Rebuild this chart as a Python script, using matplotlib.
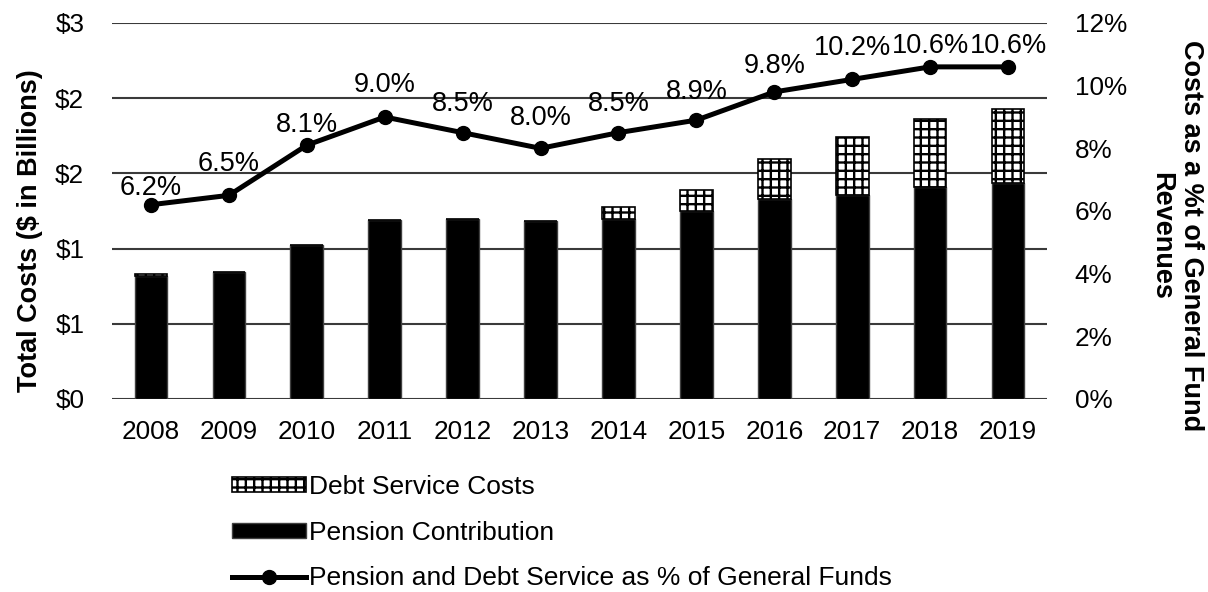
import matplotlib.pyplot as plt
from matplotlib.ticker import MultipleLocator, FuncFormatter

plt.rcParams["font.family"] = ["Liberation Sans", "DejaVu Sans"]
plt.rcParams["hatch.linewidth"] = 1.7
plt.rcParams["hatch.color"] = "black"

years = ["2008", "2009", "2010", "2011", "2012", "2013",
         "2014", "2015", "2016", "2017", "2018", "2019"]

# $ billions
pension = [0.818, 0.845, 1.022, 1.192, 1.196, 1.185,
           1.194, 1.249, 1.331, 1.358, 1.408, 1.434]
debt_service = [0.016, 0.0, 0.0, 0.0, 0.0, 0.0,
                0.081, 0.142, 0.265, 0.381, 0.457, 0.497]

# share of general fund revenues, in percent
pct_general_funds = [6.2, 6.5, 8.1, 9.0, 8.5, 8.0, 8.5, 8.9, 9.8, 10.2, 10.6, 10.6]

# vertical gap (points) between each marker and its % label
label_gap = [2.5, 13.5, 5.5, 14, 11, 12.5, 11, 11, 9, 13.5, 6, 6]

FS = 19.5
TICK_FS = 18.8

fig = plt.figure(figsize=(12.08, 5.92), dpi=100)
ax = fig.add_axes([112 / 1208, 1 - 399 / 592, 935 / 1208, 376 / 592])

x = range(len(years))
b1 = ax.bar(x, pension, width=0.42, color="black", edgecolor="#404040",
            linewidth=1, label="Pension Contribution", zorder=2)
b2 = ax.bar(x, debt_service, width=0.42, bottom=pension, color="white",
            edgecolor="black", hatch="++", linewidth=1.2,
            label="Debt Service Costs", zorder=2)

ax.set_xlim(-0.5, len(years) - 0.5)
ax.set_ylim(0, 2.5)
ax.yaxis.set_major_locator(MultipleLocator(0.5))
ax.yaxis.set_major_formatter(FuncFormatter(lambda v, p: "$%d" % int(v + 0.5)))
ax.set_xticks(list(x))
ax.set_xticklabels(years)
ax.grid(axis="y", color="#3a3a3a", linewidth=1.5, zorder=0)
ax.set_axisbelow(True)
for s in ax.spines.values():
    s.set_visible(False)
ax.tick_params(axis="both", length=0, labelsize=TICK_FS)
ax.tick_params(axis="y", pad=20)
ax.tick_params(axis="x", pad=15)

ax2 = ax.twinx()
ax2.set_ylim(0, 12)
ax2.yaxis.set_major_locator(MultipleLocator(2))
ax2.yaxis.set_major_formatter(FuncFormatter(lambda v, p: "%d%%" % round(v)))
for s in ax2.spines.values():
    s.set_visible(False)
ax2.tick_params(axis="y", length=0, labelsize=TICK_FS, pad=20)

ln, = ax2.plot(list(x), pct_general_funds, color="black", linewidth=3.6,
               marker="o", markersize=10,
               label="Pension and Debt Service as % of General Funds")
for i, v in enumerate(pct_general_funds):
    ax2.annotate("%.1f%%" % v, (i, v), xytext=(0, label_gap[i]),
                 textcoords="offset points", ha="center", va="bottom",
                 fontsize=FS)

fig.text(30 / 1208, 1 - 231 / 592, "Total Costs ($ in Billions)", rotation=90,
         ha="center", va="center", fontsize=FS, fontweight="bold")
fig.text(1176 / 1208, 1 - 236 / 592, "Costs as a %t of General Fund\nRevenues",
         rotation=270, ha="center", va="center", fontsize=FS,
         fontweight="bold", multialignment="center", linespacing=1.15)

fig.legend([b2, b1, ln],
           ["Debt Service Costs", "Pension Contribution",
            "Pension and Debt Service as % of General Funds"],
           loc="upper left", bbox_to_anchor=(232 / 1208, 1 - 475 / 592),
           frameon=False, fontsize=19, handlelength=2.8, handleheight=0.5,
           handletextpad=0.12, labelspacing=0.82, borderpad=0,
           borderaxespad=0, numpoints=1)

fig.savefig("out.png", dpi=100)
